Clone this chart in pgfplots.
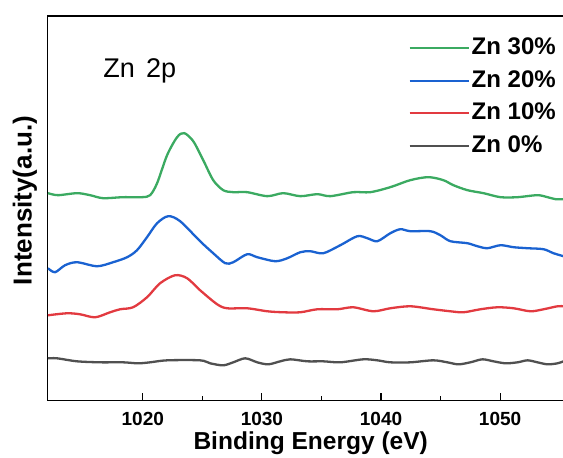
\documentclass[border=0pt]{standalone}
\usepackage{fontspec}
\setmainfont{Liberation Sans}
\usepackage{pgfplots}
\pgfplotsset{compat=1.18}
\definecolor{cgreen}{RGB}{59,170,97}
\definecolor{cblue}{RGB}{26,98,209}
\definecolor{cred}{RGB}{226,58,64}
\definecolor{cgray}{RGB}{80,80,80}
\begin{document}
\begin{tikzpicture}
\begin{axis}[
  name=ax,
  scale only axis,
  width=515.5pt, height=384pt,
  xmin=1012, xmax=1055.32,
  ymin=16, ymax=400, y dir=reverse,
  axis line style={line width=1.3pt, black},
  ytick=\empty,
  xtick={1020,1030,1040,1050},
  minor x tick num=1,
  xtick pos=bottom,
  tick align=inside,
  major tick length=7pt, minor tick length=4pt,
  every tick/.style={black, line width=1.1pt},
  /pgf/number format/assume math mode=true,
  /pgf/number format/set thousands separator={},
  xticklabel style={font=\bfseries\fontsize{19}{19}\selectfont, anchor=base, yshift=-25pt, inner sep=0pt},
  xlabel={\bfseries Binding Energy (eV)},
  xlabel style={font=\fontsize{24.5}{24.5}\selectfont, at={(axis description cs:0.51,0)}, anchor=base, yshift=-49.5pt, inner sep=0pt},
  ylabel={\bfseries Intensity(a.u.)},
  ylabel style={font=\fontsize{26}{26}\selectfont, at={(axis description cs:-0.0437,0.52)}, anchor=center},
  legend style={at={(axis description cs:0.6993,0.944)}, anchor=north west, draw=none, fill=none,
    inner sep=0pt, outer sep=0pt, row sep=15.3pt, column sep=2pt,
    font=\bfseries\fontsize{24}{24}\selectfont,
    nodes={inner sep=0pt, outer sep=0pt, text height=17.2pt, text depth=0pt}},
  legend cell align=left,
  legend image code/.code={\draw[#1] (0pt,-2pt) -- (59pt,-2pt);},
  every axis plot/.append style={line width=2.3pt, smooth, tension=0.5},
]
\addplot[cgreen] coordinates {
(1012.04,193) (1012.88,195) (1014.48,193) (1015.57,195) (1016.66,198) (1018.34,197)
(1019.93,197) (1020.61,195) (1021.20,183) (1022.04,155) (1022.88,137) (1023.47,133)
(1024.23,141) (1025.07,160) (1025.91,180) (1026.75,190) (1027.59,192) (1028.76,192)
(1030.45,196) (1031.79,193) (1033.22,196) (1034.65,194) (1035.74,196) (1037.67,192)
(1039.10,192) (1040.78,187) (1042.46,180) (1043.97,177) (1045.23,180) (1046.07,185)
(1047.25,190) (1048.60,193) (1050.03,197) (1051.46,197) (1053.13,195) (1053.98,197)
(1054.65,199) (1055.32,199)};
\addlegendentry{Zn 30\%}
\addplot[cblue] coordinates {
(1012.04,268) (1012.63,272) (1013.47,265) (1014.48,262) (1016.16,266) (1017.50,262)
(1018.68,257) (1019.51,250) (1020.35,237) (1021.20,223) (1022.13,216) (1023.13,221)
(1024.81,241) (1025.91,253) (1026.92,263) (1027.59,262) (1028.76,254) (1029.61,257)
(1031.12,261) (1032.13,258) (1033.22,252) (1034.06,251) (1035.15,253) (1036.58,245)
(1038.01,236) (1038.85,238) (1039.69,241) (1040.78,233) (1041.62,229) (1042.46,231)
(1044.14,231) (1044.98,235) (1045.82,241) (1047.25,243) (1048.09,246) (1048.93,248)
(1050.03,245) (1051.13,247) (1052.30,248) (1053.64,249) (1054.48,253) (1055.32,256)};
\addlegendentry{Zn 20\%}
\addplot[cred] coordinates {
(1012.04,315) (1013.64,313) (1014.73,314) (1015.99,317) (1017.25,312) (1018.09,309)
(1019.18,307) (1020.35,297) (1021.45,283) (1022.71,275) (1023.72,278) (1024.81,290)
(1026.24,304) (1027.08,308) (1028.76,308) (1030.45,311) (1031.79,312) (1033.22,312)
(1034.65,309) (1036.33,309) (1037.67,307) (1039.35,311) (1040.78,308) (1042.46,306)
(1044.39,309) (1045.82,311) (1046.92,312) (1048.34,309) (1049.77,307) (1051.13,308)
(1052.55,311) (1053.64,309) (1054.82,306) (1055.32,306)};
\addlegendentry{Zn 10\%}
\addplot[cgray] coordinates {
(1012.04,358) (1012.80,358) (1014.48,361) (1016.41,362) (1018.34,362) (1019.60,363)
(1020.61,362) (1022.04,360) (1024.81,360) (1025.66,363) (1026.75,365) (1027.59,362)
(1028.60,358) (1029.61,362) (1030.53,364) (1031.54,361) (1032.38,359) (1033.81,361)
(1035.15,361) (1036.58,362) (1038.51,359) (1039.69,360) (1040.78,362) (1042.46,362)
(1044.39,360) (1045.57,362) (1046.49,364) (1047.50,362) (1048.51,359) (1049.44,361)
(1050.45,363) (1051.46,362) (1052.30,360) (1053.13,362) (1053.98,364) (1054.82,363)
(1055.32,361)};
\addlegendentry{Zn 0\%}
\node[anchor=base west, inner sep=0pt, font=\fontsize{27}{27}\selectfont] at (axis description cs:0.1077,0.841) {Zn\hspace{0.42em}2p};
\end{axis}
\pgfresetboundingbox
\path[use as bounding box] ([xshift=-47.5pt,yshift=-57pt]ax.south west) rectangle ([xshift=-0.5pt,yshift=16pt]ax.north east);
\end{tikzpicture}
\end{document}
